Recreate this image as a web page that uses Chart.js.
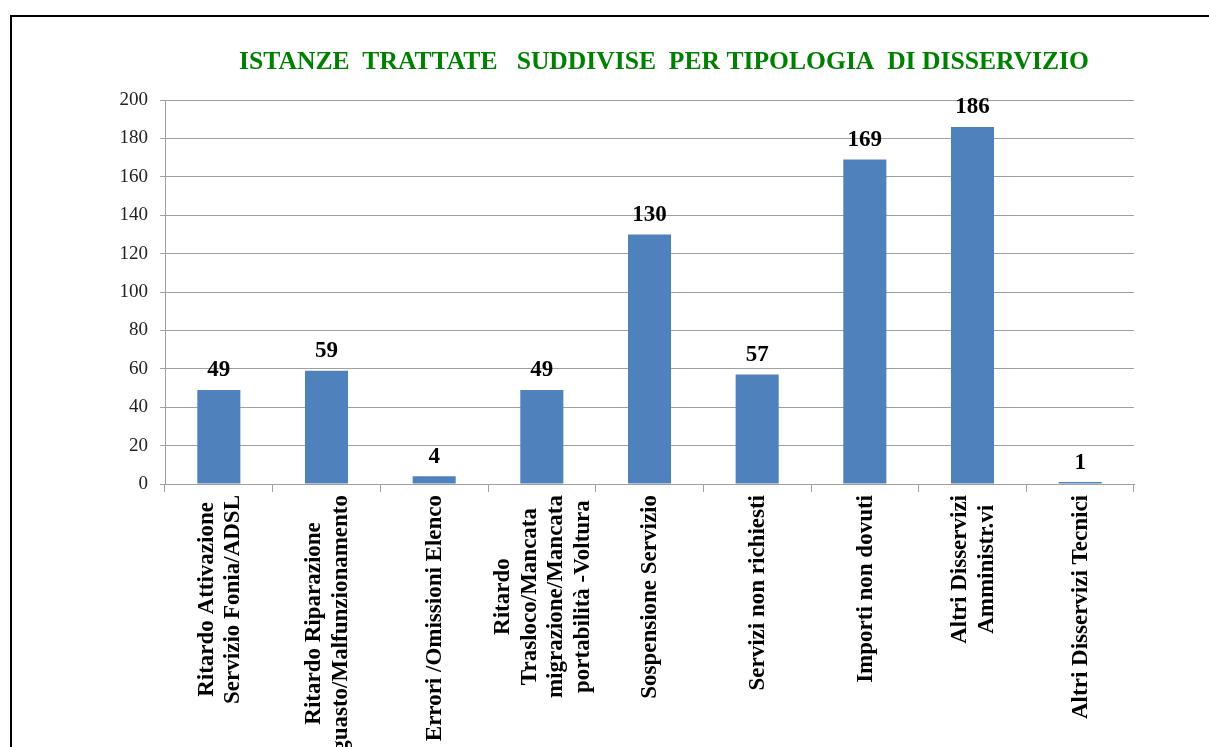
<!DOCTYPE html>
<html>
<head>
<meta charset="utf-8">
<script src="https://cdn.jsdelivr.net/npm/chart.js@4.4.1/dist/chart.umd.min.js"></script>
<style>
  html, body { margin: 0; padding: 0; background: #fff; }
  canvas { display: block; }
</style>
</head>
<body>
<canvas id="istanzeChart" width="1209" height="747"></canvas>
<script>
// Dati del grafico
const chartTitle = 'ISTANZE  TRATTATE   SUDDIVISE  PER TIPOLOGIA  DI DISSERVIZIO';

const categories = [
    ['Ritardo Attivazione', 'Servizio Fonia/ADSL'],
    ['Ritardo Riparazione', 'guasto/Malfunzionamento'],
    ['Errori /Omissioni Elenco'],
    ['Ritardo', 'Trasloco/Mancata', 'migrazione/Mancata', 'portabilità -Voltura'],
    ['Sospensione Servizio'],
    ['Servizi non richiesti'],
    ['Importi non dovuti'],
    ['Altri Disservizi', 'Amministr.vi'],
    ['Altri Disservizi Tecnici']
];

const istanze = [49, 59, 4, 49, 130, 57, 169, 186, 1];

const yTicks = [0, 20, 40, 60, 80, 100, 120, 140, 160, 180, 200];

const SERIF = '"Liberation Serif", "Times New Roman", serif';

// Cornice, titolo, etichette dati ed etichette ruotate dell'asse X
const overlayPlugin = {
    id: 'overlay',
    beforeDraw(chart) {
        const ctx = chart.ctx;
        ctx.save();
        ctx.fillStyle = '#ffffff';
        ctx.fillRect(0, 0, chart.width, chart.height);
        ctx.strokeStyle = '#000000';
        ctx.lineWidth = 2;
        ctx.beginPath();
        ctx.moveTo(11, chart.height);
        ctx.lineTo(11, 16);
        ctx.lineTo(chart.width, 16);
        ctx.stroke();
        ctx.restore();
    },
    afterDraw(chart) {
        const ctx = chart.ctx;
        ctx.save();

        // titolo
        ctx.font = 'bold 25.6px ' + SERIF;
        ctx.fillStyle = '#008000';
        ctx.textAlign = 'center';
        ctx.textBaseline = 'alphabetic';
        ctx.fillText(chartTitle, 664, 69);

        // valori sopra le barre
        ctx.font = 'bold 23px ' + SERIF;
        ctx.fillStyle = '#000000';
        const meta = chart.getDatasetMeta(0);
        meta.data.forEach((bar, i) => {
            ctx.fillText(String(istanze[i]), bar.x, bar.y - 13.5);
        });

        // etichette categorie (ruotate, righe centrate)
        const xs = chart.scales.x;
        const axisY = xs.top;
        categories.forEach((lines, i) => {
            const cx = xs.getPixelForValue(i) + 1;
            const maxW = Math.max(...lines.map(l => ctx.measureText(l).width));
            const cy = axisY + 11 + maxW / 2;
            lines.forEach((line, j) => {
                ctx.save();
                ctx.translate(cx + (j - (lines.length - 1) / 2) * 26.5, cy);
                ctx.rotate(-Math.PI / 2);
                ctx.textAlign = 'center';
                ctx.textBaseline = 'middle';
                ctx.fillText(line, 0, 0);
                ctx.restore();
            });
        });

        ctx.restore();
    }
};

const ctx = document.getElementById('istanzeChart');

new Chart(ctx, {
    type: 'bar',
    data: {
        labels: categories,
        datasets: [{
            label: 'Istanze',
            data: istanze,
            backgroundColor: '#4F81BD',
            borderWidth: 0,
            categoryPercentage: 1.0,
            barPercentage: 0.4
        }]
    },
    options: {
        responsive: false,
        animation: false,
        devicePixelRatio: 1,
        layout: {
            padding: { top: 100, left: 0, right: 75, bottom: 0 }
        },
        plugins: {
            legend: { display: false },
            title: { display: false },
            tooltip: { enabled: false }
        },
        scales: {
            x: {
                offset: true,
                grid: {
                    display: true,
                    offset: true,
                    drawOnChartArea: false,
                    drawTicks: true,
                    tickLength: 8,
                    color: '#a0a0a0'
                },
                border: { display: true, color: '#a0a0a0', width: 1 },
                ticks: { display: false },
                afterFit(scale) {
                    scale.height = 263;
                }
            },
            y: {
                min: 0,
                max: 200,
                afterBuildTicks(scale) {
                    scale.ticks = yTicks.map(v => ({ value: v }));
                },
                grid: {
                    color: '#a0a0a0',
                    drawTicks: true,
                    tickLength: 5
                },
                border: { display: true, color: '#a0a0a0', width: 1 },
                ticks: {
                    padding: 12,
                    color: '#222222',
                    font: { family: SERIF, size: 19 }
                },
                afterFit(scale) {
                    scale.width = 165;
                }
            }
        }
    },
    plugins: [overlayPlugin]
});
</script>
</body>
</html>
